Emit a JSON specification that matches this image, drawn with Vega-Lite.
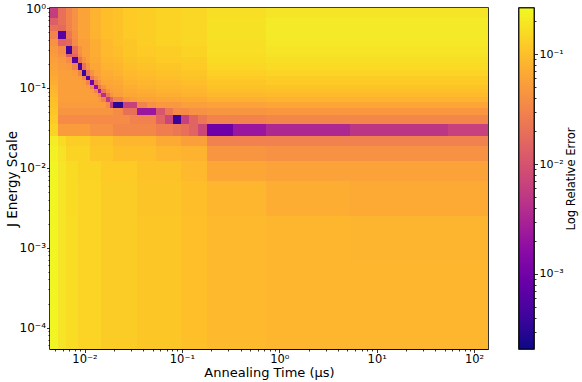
{
"$schema": "https://vega.github.io/schema/vega-lite/v6.json",
"background": "white",
"padding": {"left": 4, "top": 1, "right": 1, "bottom": 0},
"autosize": {"type": "pad"},
"spacing": 31,
"bounds": "flush",
"config": {
 "font": "DejaVu Sans",
 "view": {"stroke": "black", "strokeWidth": 1.6},
 "axis": {"grid": false, "domainColor": "black", "tickColor": "black", "labelColor": "black", "titleColor": "black", "labelFont": "DejaVu Sans", "titleFont": "DejaVu Sans", "titleFontWeight": "normal", "labelOverlap": false, "labelFlush": false, "zindex": 1, "tickWidth": 0.8, "domainWidth": 0.8}
},
"datasets": {
 "cols": [
  {"i":0,"a":0.004423,"b":0.005343},{"i":1,"a":0.005343,"b":0.006456},{"i":2,"a":0.006456,"b":0.007441},
  {"i":3,"a":0.007441,"b":0.008578},{"i":4,"a":0.008578,"b":0.009426},{"i":5,"a":0.009426,"b":0.010361},
  {"i":6,"a":0.010361,"b":0.011388},{"i":7,"a":0.011388,"b":0.012518},{"i":8,"a":0.012518,"b":0.013757},
  {"i":9,"a":0.013757,"b":0.014771},{"i":10,"a":0.014771,"b":0.016623},{"i":11,"a":0.016623,"b":0.018273},
  {"i":12,"a":0.018273,"b":0.019618},{"i":13,"a":0.019618,"b":0.024845},{"i":14,"a":0.024845,"b":0.029317},
  {"i":15,"a":0.029317,"b":0.034594},{"i":16,"a":0.034594,"b":0.043815},{"i":17,"a":0.043815,"b":0.054201},
  {"i":18,"a":0.054201,"b":0.067067},{"i":19,"a":0.067067,"b":0.081045},{"i":20,"a":0.081045,"b":0.097903},
  {"i":21,"a":0.097903,"b":0.118292},{"i":22,"a":0.118292,"b":0.146305},{"i":23,"a":0.146305,"b":0.180989},
  {"i":24,"a":0.180989,"b":0.334581},{"i":25,"a":0.334581,"b":0.730278},{"i":26,"a":0.730278,"b":5.3186},
  {"i":27,"a":5.3186,"b":53.95},{"i":28,"a":53.95,"b":138.89}
 ],
 "rows": [
  {"i":0,"a":1,"b":0.7495},{"i":1,"a":0.7495,"b":0.6127},{"i":2,"a":0.6127,"b":0.5155},
  {"i":3,"a":0.5155,"b":0.4094},{"i":4,"a":0.4094,"b":0.3344},{"i":5,"a":0.3344,"b":0.2656},
  {"i":6,"a":0.2656,"b":0.2435},{"i":7,"a":0.2435,"b":0.2049},{"i":8,"a":0.2049,"b":0.1675},
  {"i":9,"a":0.1675,"b":0.1409},{"i":10,"a":0.1409,"b":0.1256},{"i":11,"a":0.1256,"b":0.1087},
  {"i":12,"a":0.1087,"b":0.09688},{"i":13,"a":0.09688,"b":0.08633},{"i":14,"a":0.08633,"b":0.07692},
  {"i":15,"a":0.07692,"b":0.06661},{"i":16,"a":0.06661,"b":0.05604},{"i":17,"a":0.05604,"b":0.0458},
  {"i":18,"a":0.0458,"b":0.03534},{"i":19,"a":0.03534,"b":0.025},{"i":20,"a":0.025,"b":0.01875},
  {"i":21,"a":0.01875,"b":0.01217},{"i":22,"a":0.01217,"b":0.006838},{"i":23,"a":0.006838,"b":0.002493},
  {"i":24,"a":0.002493,"b":0.0006819},{"i":25,"a":0.0006819,"b":0.0001864},{"i":26,"a":0.0001864,"b":0.00005396}
 ],
 "cells": [
  {"c":0,"d":0,"r":0,"s":0,"v":0.006},
  {"c":0,"d":0,"r":1,"s":1,"v":0.0131},
  {"c":0,"d":0,"r":2,"s":2,"v":0.0201},
  {"c":0,"d":0,"r":3,"s":3,"v":0.031},
  {"c":1,"d":1,"r":0,"s":1,"v":0.0201},
  {"c":1,"d":1,"r":2,"s":2,"v":0.0175},
  {"c":1,"d":1,"r":3,"s":3,"v":0.00061},
  {"c":2,"d":2,"r":0,"s":2,"v":0.031},
  {"c":2,"d":2,"r":3,"s":3,"v":0.0232},
  {"c":3,"d":3,"r":0,"s":2,"v":0.041},
  {"c":3,"d":3,"r":3,"s":3,"v":0.038},
  {"c":4,"d":6,"r":0,"s":3,"v":0.059},
  {"c":7,"d":9,"r":0,"s":3,"v":0.078},
  {"c":10,"d":12,"r":0,"s":3,"v":0.097},
  {"c":13,"d":13,"r":0,"s":3,"v":0.104},
  {"c":14,"d":15,"r":0,"s":3,"v":0.12},
  {"c":16,"d":17,"r":0,"s":3,"v":0.129},
  {"c":18,"d":20,"r":0,"s":3,"v":0.139},
  {"c":21,"d":23,"r":0,"s":3,"v":0.149},
  {"c":24,"d":25,"r":0,"s":0,"v":0.171},
  {"c":26,"d":28,"r":0,"s":0,"v":0.191},
  {"c":24,"d":25,"r":1,"s":3,"v":0.178},
  {"c":26,"d":28,"r":1,"s":3,"v":0.205},

  {"c":0,"d":0,"r":4,"s":4,"v":0.041},
  {"c":1,"d":1,"r":4,"s":4,"v":0.0151},
  {"c":2,"d":2,"r":4,"s":4,"v":0.0175},
  {"c":3,"d":3,"r":4,"s":4,"v":0.036},
  {"c":4,"d":6,"r":4,"s":4,"v":0.055},
  {"c":7,"d":9,"r":4,"s":4,"v":0.073},
  {"c":10,"d":12,"r":4,"s":4,"v":0.09},
  {"c":13,"d":13,"r":4,"s":4,"v":0.104},
  {"c":14,"d":15,"r":4,"s":4,"v":0.112},
  {"c":16,"d":17,"r":4,"s":4,"v":0.129},
  {"c":18,"d":20,"r":4,"s":4,"v":0.139},
  {"c":21,"d":23,"r":4,"s":4,"v":0.149},
  {"c":24,"d":25,"r":4,"s":4,"v":0.171},
  {"c":26,"d":28,"r":4,"s":4,"v":0.198},

  {"c":0,"d":0,"r":5,"s":5,"v":0.047},
  {"c":1,"d":1,"r":5,"s":5,"v":0.036},
  {"c":2,"d":2,"r":5,"s":5,"v":0.00043},
  {"c":3,"d":3,"r":5,"s":5,"v":0.0201},
  {"c":4,"d":4,"r":5,"s":5,"v":0.041},
  {"c":0,"d":0,"r":6,"s":6,"v":0.051},
  {"c":1,"d":1,"r":6,"s":6,"v":0.041},
  {"c":2,"d":2,"r":6,"s":6,"v":0.0131},
  {"c":3,"d":3,"r":6,"s":6,"v":0.0151},
  {"c":4,"d":4,"r":6,"s":6,"v":0.036},
  {"c":5,"d":6,"r":5,"s":6,"v":0.055},
  {"c":7,"d":9,"r":5,"s":6,"v":0.073},
  {"c":10,"d":12,"r":5,"s":6,"v":0.09},
  {"c":13,"d":13,"r":5,"s":6,"v":0.097},
  {"c":14,"d":15,"r":5,"s":6,"v":0.112},
  {"c":16,"d":17,"r":5,"s":6,"v":0.12},
  {"c":18,"d":20,"r":5,"s":6,"v":0.129},
  {"c":21,"d":23,"r":5,"s":6,"v":0.139},
  {"c":24,"d":25,"r":5,"s":5,"v":0.171},
  {"c":26,"d":28,"r":5,"s":5,"v":0.191},
  {"c":24,"d":25,"r":6,"s":6,"v":0.165},
  {"c":26,"d":28,"r":6,"s":6,"v":0.184},

  {"c":0,"d":0,"r":7,"s":7,"v":0.055},
  {"c":1,"d":1,"r":7,"s":7,"v":0.047},
  {"c":2,"d":2,"r":7,"s":7,"v":0.036},
  {"c":3,"d":3,"r":7,"s":7,"v":0.00061},
  {"c":4,"d":4,"r":7,"s":7,"v":0.0216},
  {"c":5,"d":5,"r":7,"s":7,"v":0.041},
  {"c":6,"d":6,"r":7,"s":7,"v":0.055},
  {"c":7,"d":9,"r":7,"s":7,"v":0.068},
  {"c":10,"d":12,"r":7,"s":7,"v":0.084},
  {"c":13,"d":13,"r":7,"s":7,"v":0.09},
  {"c":14,"d":15,"r":7,"s":7,"v":0.104},
  {"c":16,"d":17,"r":7,"s":7,"v":0.112},
  {"c":18,"d":20,"r":7,"s":7,"v":0.12},
  {"c":21,"d":23,"r":7,"s":7,"v":0.129},
  {"c":24,"d":25,"r":7,"s":7,"v":0.16},
  {"c":26,"d":28,"r":7,"s":7,"v":0.171},

  {"c":0,"d":0,"r":8,"s":8,"v":0.059},
  {"c":1,"d":1,"r":8,"s":8,"v":0.051},
  {"c":2,"d":2,"r":8,"s":8,"v":0.047},
  {"c":3,"d":3,"r":8,"s":8,"v":0.031},
  {"c":4,"d":4,"r":8,"s":8,"v":0.00049},
  {"c":5,"d":5,"r":8,"s":8,"v":0.0216},
  {"c":6,"d":6,"r":8,"s":8,"v":0.041},
  {"c":7,"d":9,"r":8,"s":8,"v":0.063},
  {"c":10,"d":12,"r":8,"s":8,"v":0.078},
  {"c":13,"d":13,"r":8,"s":8,"v":0.084},
  {"c":14,"d":15,"r":8,"s":8,"v":0.097},
  {"c":16,"d":17,"r":8,"s":8,"v":0.104},
  {"c":18,"d":20,"r":8,"s":8,"v":0.112},
  {"c":21,"d":23,"r":8,"s":8,"v":0.12},
  {"c":24,"d":25,"r":8,"s":8,"v":0.149},
  {"c":26,"d":28,"r":8,"s":8,"v":0.16},

  {"c":0,"d":0,"r":9,"s":9,"v":0.063},
  {"c":1,"d":2,"r":9,"s":9,"v":0.055},
  {"c":3,"d":3,"r":9,"s":9,"v":0.051},
  {"c":4,"d":4,"r":9,"s":9,"v":0.031},
  {"c":5,"d":5,"r":9,"s":9,"v":0.00037},
  {"c":6,"d":6,"r":9,"s":9,"v":0.0216},
  {"c":7,"d":7,"r":9,"s":9,"v":0.041},
  {"c":8,"d":9,"r":9,"s":9,"v":0.059},
  {"c":10,"d":12,"r":9,"s":9,"v":0.073},
  {"c":13,"d":13,"r":9,"s":9,"v":0.078},
  {"c":14,"d":15,"r":9,"s":9,"v":0.09},
  {"c":16,"d":17,"r":9,"s":9,"v":0.097},
  {"c":18,"d":20,"r":9,"s":9,"v":0.104},
  {"c":21,"d":23,"r":9,"s":9,"v":0.112},
  {"c":24,"d":25,"r":9,"s":9,"v":0.1335},
  {"c":26,"d":28,"r":9,"s":9,"v":0.143},

  {"c":0,"d":0,"r":10,"s":10,"v":0.068},
  {"c":1,"d":3,"r":10,"s":10,"v":0.055},
  {"c":4,"d":4,"r":10,"s":10,"v":0.051},
  {"c":5,"d":5,"r":10,"s":10,"v":0.031},
  {"c":6,"d":6,"r":10,"s":10,"v":0.00061},
  {"c":7,"d":7,"r":10,"s":10,"v":0.0232},
  {"c":8,"d":8,"r":10,"s":10,"v":0.041},
  {"c":9,"d":9,"r":10,"s":10,"v":0.055},
  {"c":10,"d":12,"r":10,"s":10,"v":0.068},
  {"c":13,"d":13,"r":10,"s":10,"v":0.073},
  {"c":14,"d":15,"r":10,"s":10,"v":0.084},
  {"c":16,"d":17,"r":10,"s":10,"v":0.09},
  {"c":18,"d":20,"r":10,"s":10,"v":0.097},
  {"c":21,"d":23,"r":10,"s":10,"v":0.104},
  {"c":24,"d":25,"r":10,"s":10,"v":0.12},
  {"c":26,"d":28,"r":10,"s":10,"v":0.129},

  {"c":0,"d":0,"r":11,"s":11,"v":0.073},
  {"c":1,"d":4,"r":11,"s":11,"v":0.055},
  {"c":5,"d":5,"r":11,"s":11,"v":0.051},
  {"c":6,"d":6,"r":11,"s":11,"v":0.031},
  {"c":7,"d":7,"r":11,"s":11,"v":0.001},
  {"c":8,"d":8,"r":11,"s":11,"v":0.0232},
  {"c":9,"d":9,"r":11,"s":11,"v":0.041},
  {"c":10,"d":12,"r":11,"s":11,"v":0.063},
  {"c":13,"d":13,"r":11,"s":11,"v":0.068},
  {"c":14,"d":15,"r":11,"s":11,"v":0.078},
  {"c":16,"d":17,"r":11,"s":11,"v":0.084},
  {"c":18,"d":20,"r":11,"s":11,"v":0.09},
  {"c":21,"d":23,"r":11,"s":11,"v":0.097},
  {"c":24,"d":25,"r":11,"s":11,"v":0.112},
  {"c":26,"d":28,"r":11,"s":11,"v":0.12},

  {"c":0,"d":0,"r":12,"s":12,"v":0.078},
  {"c":1,"d":5,"r":12,"s":12,"v":0.055},
  {"c":6,"d":6,"r":12,"s":12,"v":0.051},
  {"c":7,"d":7,"r":12,"s":12,"v":0.031},
  {"c":8,"d":8,"r":12,"s":12,"v":0.0018},
  {"c":9,"d":9,"r":12,"s":12,"v":0.0232},
  {"c":10,"d":10,"r":12,"s":12,"v":0.041},
  {"c":11,"d":12,"r":12,"s":12,"v":0.059},
  {"c":13,"d":13,"r":12,"s":12,"v":0.063},
  {"c":14,"d":15,"r":12,"s":12,"v":0.073},
  {"c":16,"d":17,"r":12,"s":12,"v":0.078},
  {"c":18,"d":20,"r":12,"s":12,"v":0.084},
  {"c":21,"d":23,"r":12,"s":12,"v":0.09},
  {"c":24,"d":25,"r":12,"s":12,"v":0.104},
  {"c":26,"d":28,"r":12,"s":12,"v":0.108},

  {"c":0,"d":0,"r":13,"s":13,"v":0.084},
  {"c":1,"d":6,"r":13,"s":13,"v":0.055},
  {"c":7,"d":7,"r":13,"s":13,"v":0.051},
  {"c":8,"d":8,"r":13,"s":13,"v":0.031},
  {"c":9,"d":9,"r":13,"s":13,"v":0.0025},
  {"c":10,"d":10,"r":13,"s":13,"v":0.0232},
  {"c":11,"d":11,"r":13,"s":13,"v":0.041},
  {"c":12,"d":12,"r":13,"s":13,"v":0.055},
  {"c":13,"d":13,"r":13,"s":13,"v":0.059},
  {"c":14,"d":15,"r":13,"s":13,"v":0.068},
  {"c":16,"d":17,"r":13,"s":13,"v":0.073},
  {"c":18,"d":20,"r":13,"s":13,"v":0.078},
  {"c":21,"d":23,"r":13,"s":13,"v":0.084},
  {"c":24,"d":25,"r":13,"s":13,"v":0.097},
  {"c":26,"d":28,"r":13,"s":13,"v":0.1},

  {"c":0,"d":0,"r":14,"s":14,"v":0.09},
  {"c":1,"d":7,"r":14,"s":14,"v":0.055},
  {"c":8,"d":8,"r":14,"s":14,"v":0.051},
  {"c":9,"d":9,"r":14,"s":14,"v":0.031},
  {"c":10,"d":10,"r":14,"s":14,"v":0.0042},
  {"c":11,"d":11,"r":14,"s":14,"v":0.0232},
  {"c":12,"d":12,"r":14,"s":14,"v":0.041},
  {"c":13,"d":13,"r":14,"s":14,"v":0.055},
  {"c":14,"d":15,"r":14,"s":14,"v":0.063},
  {"c":16,"d":17,"r":14,"s":14,"v":0.068},
  {"c":18,"d":20,"r":14,"s":14,"v":0.073},
  {"c":21,"d":23,"r":14,"s":14,"v":0.078},
  {"c":24,"d":25,"r":14,"s":14,"v":0.087},
  {"c":26,"d":28,"r":14,"s":14,"v":0.09},

  {"c":0,"d":0,"r":15,"s":15,"v":0.097},
  {"c":1,"d":8,"r":15,"s":15,"v":0.055},
  {"c":9,"d":9,"r":15,"s":15,"v":0.047},
  {"c":10,"d":10,"r":15,"s":15,"v":0.031},
  {"c":11,"d":11,"r":15,"s":15,"v":0.0052},
  {"c":12,"d":12,"r":15,"s":15,"v":0.0151},
  {"c":13,"d":13,"r":15,"s":15,"v":0.031},
  {"c":14,"d":14,"r":15,"s":15,"v":0.047},
  {"c":15,"d":15,"r":15,"s":15,"v":0.055},
  {"c":16,"d":17,"r":15,"s":15,"v":0.059},
  {"c":18,"d":20,"r":15,"s":15,"v":0.063},
  {"c":21,"d":23,"r":15,"s":15,"v":0.068},
  {"c":24,"d":25,"r":15,"s":15,"v":0.0754},
  {"c":26,"d":28,"r":15,"s":15,"v":0.078},

  {"c":0,"d":0,"r":16,"s":16,"v":0.104},
  {"c":1,"d":10,"r":16,"s":16,"v":0.051},
  {"c":11,"d":11,"r":16,"s":16,"v":0.036},
  {"c":12,"d":12,"r":16,"s":16,"v":0.0052},
  {"c":13,"d":13,"r":16,"s":16,"v":0.0003},
  {"c":14,"d":15,"r":16,"s":16,"v":0.0064},
  {"c":16,"d":16,"r":16,"s":16,"v":0.031},
  {"c":17,"d":17,"r":16,"s":16,"v":0.041},
  {"c":18,"d":20,"r":16,"s":16,"v":0.047},
  {"c":21,"d":23,"r":16,"s":16,"v":0.055},
  {"c":24,"d":25,"r":16,"s":16,"v":0.059},
  {"c":26,"d":28,"r":16,"s":16,"v":0.063},

  {"c":0,"d":0,"r":17,"s":17,"v":0.112},
  {"c":1,"d":12,"r":17,"s":17,"v":0.044},
  {"c":13,"d":13,"r":17,"s":17,"v":0.036},
  {"c":14,"d":15,"r":17,"s":17,"v":0.0201},
  {"c":16,"d":17,"r":17,"s":17,"v":0.0022},
  {"c":18,"d":18,"r":17,"s":17,"v":0.0106},
  {"c":19,"d":19,"r":17,"s":17,"v":0.0232},
  {"c":20,"d":21,"r":17,"s":17,"v":0.036},
  {"c":22,"d":23,"r":17,"s":17,"v":0.041},
  {"c":24,"d":25,"r":17,"s":17,"v":0.044},
  {"c":26,"d":28,"r":17,"s":17,"v":0.0458},

  {"c":0,"d":0,"r":18,"s":18,"v":0.12},
  {"c":1,"d":14,"r":18,"s":18,"v":0.036},
  {"c":15,"d":17,"r":18,"s":18,"v":0.029},
  {"c":18,"d":18,"r":18,"s":18,"v":0.0151},
  {"c":19,"d":19,"r":18,"s":18,"v":0.0074},
  {"c":20,"d":20,"r":18,"s":18,"v":0.00037},
  {"c":21,"d":21,"r":18,"s":18,"v":0.0064},
  {"c":22,"d":22,"r":18,"s":18,"v":0.0151},
  {"c":23,"d":23,"r":18,"s":18,"v":0.0232},
  {"c":24,"d":25,"r":18,"s":18,"v":0.031},
  {"c":26,"d":28,"r":18,"s":18,"v":0.033},

  {"c":0,"d":0,"r":19,"s":19,"v":0.139},
  {"c":1,"d":6,"r":19,"s":19,"v":0.051},
  {"c":7,"d":12,"r":19,"s":19,"v":0.041},
  {"c":13,"d":17,"r":19,"s":19,"v":0.033},
  {"c":18,"d":19,"r":19,"s":19,"v":0.027},
  {"c":20,"d":20,"r":19,"s":19,"v":0.0232},
  {"c":21,"d":21,"r":19,"s":19,"v":0.0201},
  {"c":22,"d":22,"r":19,"s":19,"v":0.0151},
  {"c":23,"d":23,"r":19,"s":19,"v":0.0074},
  {"c":24,"d":24,"r":19,"s":19,"v":0.00094},
  {"c":25,"d":25,"r":19,"s":19,"v":0.0022},
  {"c":26,"d":26,"r":19,"s":19,"v":0.0034},
  {"c":27,"d":27,"r":19,"s":19,"v":0.0048},
  {"c":28,"d":28,"r":19,"s":19,"v":0.0064},

  {"c":0,"d":0,"r":20,"s":20,"v":0.213},
  {"c":1,"d":1,"r":20,"s":20,"v":0.16},
  {"c":2,"d":6,"r":20,"s":20,"v":0.129},
  {"c":7,"d":12,"r":20,"s":20,"v":0.104},
  {"c":13,"d":17,"r":20,"s":20,"v":0.084},
  {"c":18,"d":20,"r":20,"s":20,"v":0.068},
  {"c":21,"d":23,"r":20,"s":20,"v":0.055},
  {"c":24,"d":28,"r":20,"s":20,"v":0.029},

  {"c":0,"d":0,"r":21,"s":21,"v":0.228},
  {"c":1,"d":1,"r":21,"s":21,"v":0.184},
  {"c":2,"d":6,"r":21,"s":21,"v":0.139},
  {"c":7,"d":12,"r":21,"s":21,"v":0.112},
  {"c":13,"d":17,"r":21,"s":21,"v":0.097},
  {"c":18,"d":20,"r":21,"s":21,"v":0.084},
  {"c":21,"d":23,"r":21,"s":21,"v":0.078},
  {"c":24,"d":25,"r":21,"s":21,"v":0.044},
  {"c":26,"d":28,"r":21,"s":21,"v":0.041},

  {"c":0,"d":0,"r":22,"s":26,"v":0.245},
  {"c":1,"d":1,"r":22,"s":26,"v":0.191},
  {"c":2,"d":3,"r":22,"s":23,"v":0.16},
  {"c":2,"d":3,"r":24,"s":26,"v":0.165},
  {"c":4,"d":9,"r":22,"s":22,"v":0.139},
  {"c":4,"d":9,"r":23,"s":26,"v":0.143},
  {"c":10,"d":15,"r":22,"s":22,"v":0.12},
  {"c":10,"d":15,"r":23,"s":26,"v":0.124},
  {"c":16,"d":20,"r":22,"s":22,"v":0.104},
  {"c":16,"d":20,"r":23,"s":23,"v":0.108},
  {"c":16,"d":20,"r":24,"s":26,"v":0.112},
  {"c":21,"d":23,"r":22,"s":22,"v":0.09},
  {"c":21,"d":23,"r":23,"s":23,"v":0.097},
  {"c":21,"d":23,"r":24,"s":26,"v":0.1},
  {"c":24,"d":25,"r":22,"s":22,"v":0.063},
  {"c":24,"d":25,"r":23,"s":23,"v":0.084},
  {"c":24,"d":25,"r":24,"s":26,"v":0.09},
  {"c":26,"d":28,"r":22,"s":22,"v":0.059},
  {"c":26,"d":26,"r":23,"s":23,"v":0.073},
  {"c":27,"d":28,"r":23,"s":23,"v":0.068},
  {"c":26,"d":26,"r":24,"s":24,"v":0.084},
  {"c":27,"d":28,"r":24,"s":24,"v":0.081},
  {"c":26,"d":28,"r":25,"s":26,"v":0.084}
 ]
},
"hconcat": [
 {
  "width": 438,
  "height": 341,
  "data": {"name": "cells"},
  "transform": [
   {"lookup": "c", "from": {"data": {"name": "cols"}, "key": "i", "fields": ["a"]}, "as": ["x0"]},
   {"lookup": "d", "from": {"data": {"name": "cols"}, "key": "i", "fields": ["b"]}, "as": ["x1"]},
   {"lookup": "r", "from": {"data": {"name": "rows"}, "key": "i", "fields": ["a"]}, "as": ["y0"]},
   {"lookup": "s", "from": {"data": {"name": "rows"}, "key": "i", "fields": ["b"]}, "as": ["y1"]}
  ],
  "mark": {"type": "rect"},
  "encoding": {
   "x": {
    "field": "x0", "type": "quantitative",
    "scale": {"type": "log", "domain": [0.004423, 138.89], "nice": false},
    "axis": {
     "title": "Annealing Time (μs)",
     "values": [0.005,0.006,0.007,0.008,0.009,0.01,0.02,0.03,0.04,0.05,0.06,0.07,0.08,0.09,0.1,0.2,0.3,0.4,0.5,0.6,0.7,0.8,0.9,1,2,3,4,5,6,7,8,9,10,20,30,40,50,60,70,80,90,100],
     "labelExpr": "datum.value == 0.01 ? '10⁻²' : datum.value == 0.1 ? '10⁻¹' : datum.value == 1 ? '10⁰' : datum.value == 10 ? '10¹' : datum.value == 100 ? '10²' : ''",
     "tickSize": {"condition": {"test": "indexof([0.01,0.1,1,10,100], datum.value) >= 0", "value": 3.5}, "value": 2},
     "labelFontSize": 11.5,
     "titleFontSize": 13,
     "labelPadding": 1,
     "titlePadding": 2,
     "minExtent": 15,
     "maxExtent": 15
    }
   },
   "x2": {"field": "x1"},
   "y": {
    "field": "y0", "type": "quantitative",
    "scale": {"type": "log", "domain": [0.00005396, 1], "nice": false},
    "axis": {
     "title": "J Energy Scale",
     "values": [0.00006,0.00007,0.00008,0.00009,0.0001,0.0002,0.0003,0.0004,0.0005,0.0006,0.0007,0.0008,0.0009,0.001,0.002,0.003,0.004,0.005,0.006,0.007,0.008,0.009,0.01,0.02,0.03,0.04,0.05,0.06,0.07,0.08,0.09,0.1,0.2,0.3,0.4,0.5,0.6,0.7,0.8,0.9,1],
     "labelExpr": "datum.value == 0.0001 ? '10⁻⁴' : datum.value == 0.001 ? '10⁻³' : datum.value == 0.01 ? '10⁻²' : datum.value == 0.1 ? '10⁻¹' : datum.value == 1 ? '10⁰' : ''",
     "tickSize": {"condition": {"test": "indexof([0.0001,0.001,0.01,0.1,1], datum.value) >= 0", "value": 3.5}, "value": 2},
     "labelFontSize": 12,
     "titleFontSize": 13.5,
     "labelPadding": 1,
     "titlePadding": 1,
     "minExtent": 30,
     "maxExtent": 30
    }
   },
   "y2": {"field": "y1"},
   "color": {
    "field": "v", "type": "quantitative",
    "scale": {"type": "log", "scheme": "plasma", "domain": [0.000208, 0.262], "nice": false},
    "legend": null
   }
  }
 },
 {
  "width": 15,
  "height": 341,
  "data": {"values": [{"lo": 0.000208, "hi": 0.262}]},
  "mark": {
   "type": "rect",
   "stroke": "black",
   "strokeWidth": 0.8,
   "color": {
    "gradient": "linear", "x1": 0, "y1": 1, "x2": 0, "y2": 0,
    "stops": [
     {"offset": 0, "color": "#0d0887"},
     {"offset": 0.1, "color": "#41049d"},
     {"offset": 0.2, "color": "#6a00a8"},
     {"offset": 0.3, "color": "#8f0da4"},
     {"offset": 0.4, "color": "#b12a90"},
     {"offset": 0.5, "color": "#cc4778"},
     {"offset": 0.6, "color": "#e16462"},
     {"offset": 0.7, "color": "#f2844b"},
     {"offset": 0.8, "color": "#fca636"},
     {"offset": 0.9, "color": "#fcce25"},
     {"offset": 1, "color": "#f0f921"}
    ]
   }
  },
  "encoding": {
   "y": {
    "field": "lo", "type": "quantitative",
    "scale": {"type": "log", "domain": [0.000208, 0.262], "nice": false},
    "axis": {
     "orient": "right",
     "title": "Log Relative Error",
     "values": [0.0003,0.0004,0.0005,0.0006,0.0007,0.0008,0.0009,0.001,0.002,0.003,0.004,0.005,0.006,0.007,0.008,0.009,0.01,0.02,0.03,0.04,0.05,0.06,0.07,0.08,0.09,0.1,0.2],
     "labelExpr": "datum.value == 0.001 ? '10⁻³' : datum.value == 0.01 ? '10⁻²' : datum.value == 0.1 ? '10⁻¹' : ''",
     "tickSize": {"condition": {"test": "indexof([0.001,0.01,0.1], datum.value) >= 0", "value": 3.5}, "value": 2},
     "labelFontSize": 11,
     "titleFontSize": 11.6,
     "titleAngle": 270,
     "titleBaseline": "top",
     "labelPadding": 1.5,
     "titlePadding": 4,
     "minExtent": 27,
     "maxExtent": 27,
     "domain": false
    }
   },
   "y2": {"field": "hi"}
  }
 }
]
}
